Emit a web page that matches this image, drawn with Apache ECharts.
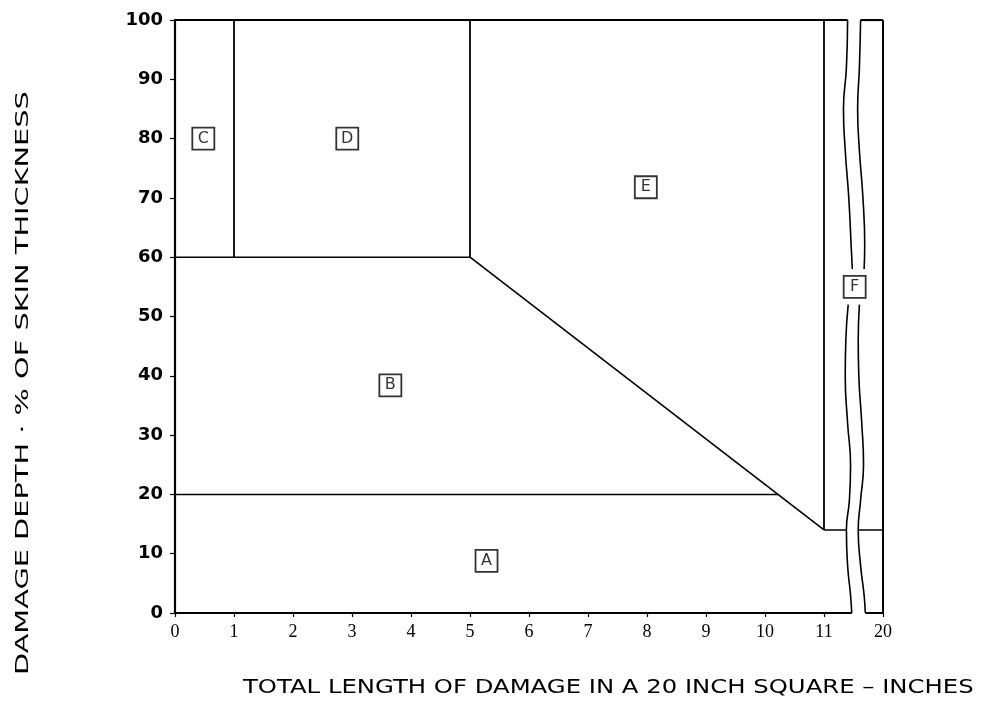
<!DOCTYPE html>
<html><head><meta charset="utf-8">
<script src="https://cdn.jsdelivr.net/npm/echarts@6/dist/echarts.min.js"></script>
<style>html,body{margin:0;padding:0;background:#fff}#c{width:986px;height:715px}</style>
</head><body><div id="c"></div>
<script>
// x positions: 0..11 real inches, 12 stands for the broken-axis "20"
const xTickLabels = ['0','1','2','3','4','5','6','7','8','9','10','11','20'];
const yTickValues = [0,10,20,30,40,50,60,70,80,90,100];

// region boundary lines [x, y] in data units
const lineC_D = [[1,60],[1,100]];
const lineD_E = [[5,60],[5,100]];
const line60 = [[0,60],[5,60]];
const lineDiagonal = [[5,60],[11,14]];
const line20 = [[0,20],[10.22,20]];
const line11 = [[11,14],[11,100]];
const line14a = [[11,14],[11.38,14]];
const line14b = [[11.58,14],[12,14]];
const topA = [[0,100],[11.40,100]];
const topB = [[11.62,100],[12,100]];
const bottomA = [[0,0],[11.47,0]];
const bottomB = [[11.70,0],[12,0]];
const rightBorder = [[12,0],[12,100]];

// wavy break lines
const waveLeftUpper = [[11.40,100],[11.38,92],[11.33,85],[11.36,78],[11.42,70],[11.46,62],[11.48,58]];
const waveLeftLower = [[11.41,52],[11.37,46],[11.36,40],[11.40,32],[11.45,25],[11.43,19],[11.38,14],[11.40,8],[11.45,3],[11.47,0]];
const waveRightUpper = [[11.62,100],[11.60,92],[11.57,85],[11.60,78],[11.66,70],[11.69,62],[11.68,58]];
const waveRightLower = [[11.60,52],[11.58,46],[11.59,40],[11.64,32],[11.67,25],[11.62,19],[11.58,14],[11.62,8],[11.68,3],[11.70,0]];

// region labels
const regionNames = ['A','B','C','D','E','F'];
const regionX = [5.28,3.65,0.48,2.92,7.98,11.52];
const regionY = [8.8,38.4,80,80,71.8,55];

const chart = echarts.init(document.getElementById('c'), null, {renderer:'canvas'});

function seg(data, w){
  return {type:'line', data:data, symbol:'none', silent:true,
    lineStyle:{color:'#000', width:w}, animation:false};
}
function wave(data){
  return {type:'line', data:data, symbol:'none', smooth:0.5, silent:true,
    lineStyle:{color:'#000', width:1.6}, animation:false};
}

const series = [
  seg(lineC_D,1.8), seg(lineD_E,1.8), seg(line60,1.6), seg(lineDiagonal,1.6),
  seg(line20,1.5), seg(line11,1.8), seg(line14a,1.5), seg(line14b,1.5),
  seg(topA,2.2), seg(topB,2.2), seg(bottomA,2), seg(bottomB,2), seg(rightBorder,2),
  wave(waveLeftUpper), wave(waveLeftLower), wave(waveRightUpper), wave(waveRightLower),
  {type:'scatter', animation:false, silent:true,
   data: regionNames.map((n,i)=>({value:[regionX[i],regionY[i]], name:n})),
   symbol:'rect', symbolSize:[22,22],
   itemStyle:{color:'#fff', borderColor:'#000', borderWidth:1.8},
   label:{show:true, position:'inside', formatter:p=>p.name, color:'#000',
     fontFamily:'DejaVu Sans', fontSize:16}}
];

chart.setOption({
  animation:false,
  backgroundColor:'#fff',
  grid:{left:175, top:20, right:103, bottom:102, containLabel:false},
  xAxis:{type:'value', min:0, max:12, interval:1,
    axisLine:{show:false},
    axisTick:{show:true, length:4, lineStyle:{color:'#000', width:1.2}},
    splitLine:{show:false},
    axisLabel:{formatter:v=>xTickLabels[Math.round(v)], color:'#000', margin:10,
      fontFamily:'Liberation Serif', fontSize:18}},
  yAxis:{type:'value', min:0, max:100, interval:10,
    axisLine:{show:true, lineStyle:{color:'#000', width:2.2}},
    axisTick:{show:true, length:5, lineStyle:{color:'#000', width:1.2}},
    splitLine:{show:false},
    axisLabel:{formatter:v=>yTickValues.indexOf(v)>=0?String(v):'', color:'#000', margin:12,
      fontFamily:'DejaVu Sans', fontSize:18, fontWeight:'bold'}},
  graphic:[
    {type:'text', x:243, y:679, scaleX:1.28, style:{text:'TOTAL LENGTH OF DAMAGE IN A 20 INCH SQUARE \u2013 INCHES',
      fill:'#000', font:'19px "DejaVu Sans"'}},
    {type:'text', x:14, y:675, rotation:Math.PI/2, scaleX:1.6, style:{text:'DAMAGE DEPTH \u00b7 % OF SKIN THICKNESS',
      fill:'#000', font:'18px "DejaVu Sans"'}}
  ],
  series:series
});
</script></body></html>
